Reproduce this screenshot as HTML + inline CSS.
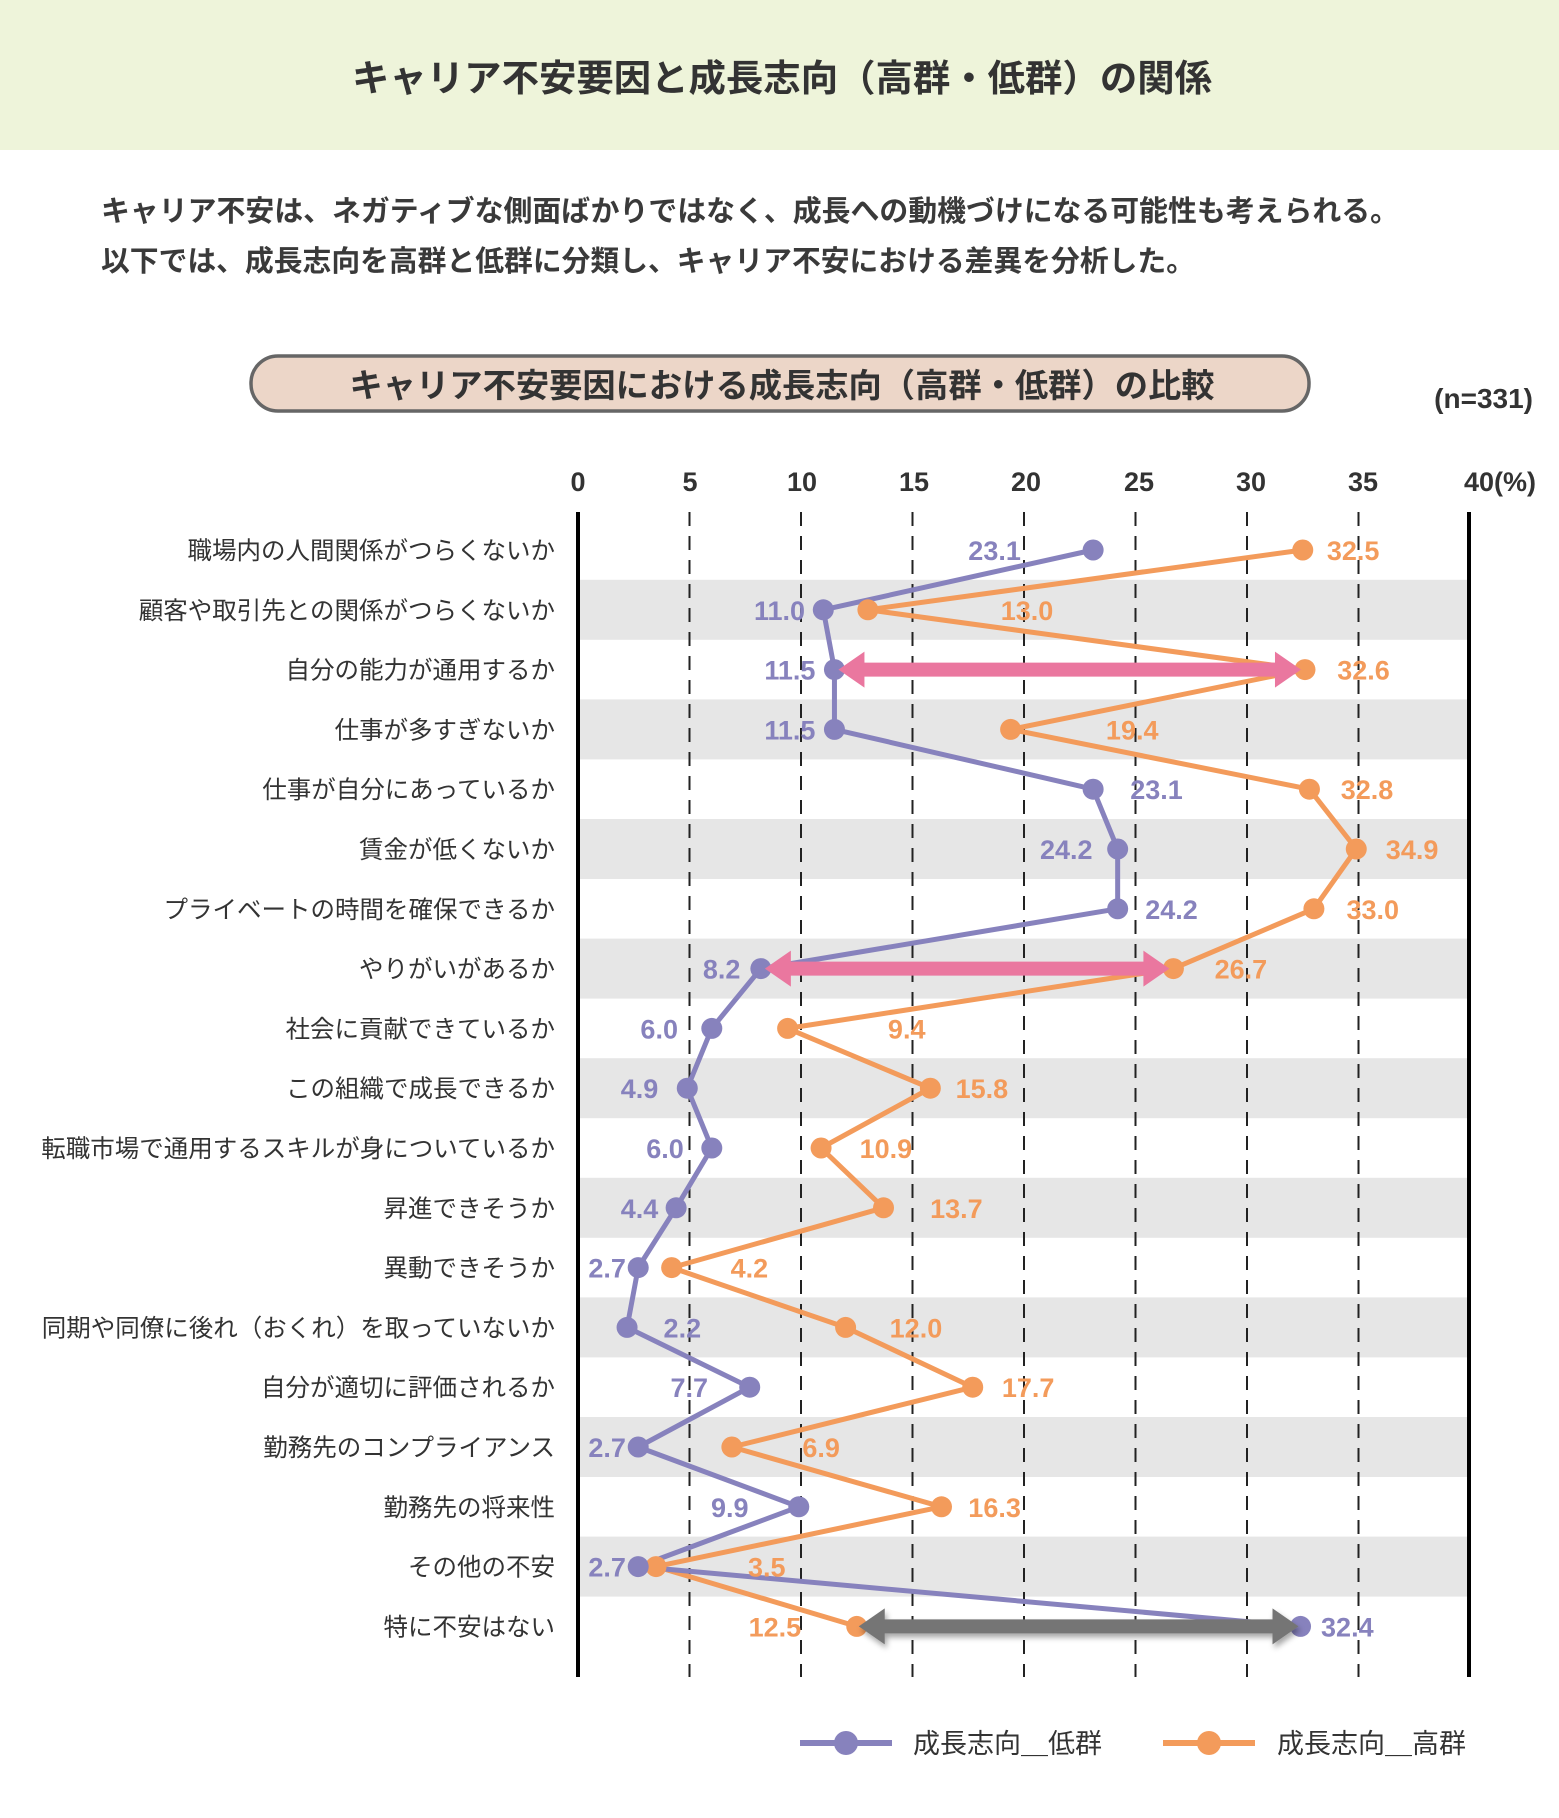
<!DOCTYPE html>
<html><head><meta charset="utf-8"><style>
html,body{margin:0;padding:0;background:#fff}
svg text{font-family:"Liberation Sans","Noto Sans CJK JP",sans-serif}
</style></head><body>
<svg width="1559" height="1813" viewBox="0 0 1559 1813" xmlns="http://www.w3.org/2000/svg">
<defs>
<filter id="sh" x="-10%" y="-50%" width="120%" height="200%"><feDropShadow dx="2" dy="4" stdDeviation="3" flood-color="#000" flood-opacity="0.35"/></filter>
</defs>
<rect x="0" y="0" width="1559" height="150" fill="#eef4da"/>
<text x="782" y="91" text-anchor="middle" font-size="37" font-weight="bold" fill="#333" textLength="860" lengthAdjust="spacingAndGlyphs">キャリア不安要因と成長志向（高群・低群）の関係</text>
<text x="101" y="221" font-size="29" font-weight="bold" fill="#3a3a3a" textLength="1298" lengthAdjust="spacingAndGlyphs">キャリア不安は、ネガティブな側面ばかりではなく、成長への動機づけになる可能性も考えられる。</text>
<text x="101" y="271" font-size="29" font-weight="bold" fill="#3a3a3a" textLength="1094" lengthAdjust="spacingAndGlyphs">以下では、成長志向を高群と低群に分類し、キャリア不安における差異を分析した。</text>
<rect x="251" y="356" width="1058" height="55" rx="27" fill="#ecd6c8" stroke="#666" stroke-width="3.5"/>
<text x="782" y="397" text-anchor="middle" font-size="33" font-weight="bold" fill="#333" textLength="865" lengthAdjust="spacingAndGlyphs">キャリア不安要因における成長志向（高群・低群）の比較</text>
<text x="1533" y="408" text-anchor="end" font-size="28" font-weight="bold" fill="#333">(n=331)</text>
<g id="chart"></g>
<g font-size="27" font-weight="bold" fill="#333" text-anchor="middle">
<text x="578" y="491">0</text><text x="690" y="491">5</text><text x="802" y="491">10</text><text x="914" y="491">15</text><text x="1026" y="491">20</text><text x="1139" y="491">25</text><text x="1251" y="491">30</text><text x="1363" y="491">35</text><text x="1500" y="491">40(%)</text>
</g>
<g transform="translate(800,1743)">
<line x1="0" y1="0" x2="92" y2="0" stroke="#8782bd" stroke-width="6"/><circle cx="46" cy="0" r="12" fill="#8782bd"/>
<text x="113" y="10" font-size="27" fill="#333">成長志向＿低群</text>
<line x1="363" y1="0" x2="455" y2="0" stroke="#f39b5b" stroke-width="6"/><circle cx="409" cy="0" r="12" fill="#f39b5b"/>
<text x="477" y="10" font-size="27" fill="#333">成長志向＿高群</text>
</g>
</svg>
<script>
(function(){
var NS="http://www.w3.org/2000/svg",g=document.getElementById("chart");
function el(t,a,txt){var e=document.createElementNS(NS,t);for(var k in a)e.setAttribute(k,a[k]);if(txt!=null)e.textContent=txt;g.appendChild(e);return e;}
var cats=["職場内の人間関係がつらくないか","顧客や取引先との関係がつらくないか","自分の能力が通用するか","仕事が多すぎないか","仕事が自分にあっているか","賃金が低くないか","プライベートの時間を確保できるか","やりがいがあるか","社会に貢献できているか","この組織で成長できるか","転職市場で通用するスキルが身についているか","昇進できそうか","異動できそうか","同期や同僚に後れ（おくれ）を取っていないか","自分が適切に評価されるか","勤務先のコンプライアンス","勤務先の将来性","その他の不安","特に不安はない"];
var lo=[23.1,11.0,11.5,11.5,23.1,24.2,24.2,8.2,6.0,4.9,6.0,4.4,2.7,2.2,7.7,2.7,9.9,2.7,32.4];
var hi=[32.5,13.0,32.6,19.4,32.8,34.9,33.0,26.7,9.4,15.8,10.9,13.7,4.2,12.0,17.7,6.9,16.3,3.5,12.5];
var loL=[860,674,683,683,1000,922,1013,624,570,553,575,553,525,590,596,525,631,525,1165];
var hiL=[1170,888,1179,979,1182,1221,1187,1073,784,849,766,827,648,792,889,710,860,663,670];
function X(v){return 578+v*22.3;}
function Y(i){return 550+59.8*i;}
for(var i=0;i<19;i++){if(i%2==1)el("rect",{x:578,y:Y(i)-30,width:891,height:60,fill:"#e6e6e6"});}
for(var k=1;k<8;k++){el("line",{x1:X(k*5),y1:512,x2:X(k*5),y2:1677,stroke:"#222","stroke-width":2,"stroke-dasharray":"14,10"});}
el("line",{x1:578,y1:512,x2:578,y2:1677,stroke:"#000","stroke-width":4});
el("line",{x1:1469,y1:512,x2:1469,y2:1677,stroke:"#000","stroke-width":4});
for(var i=0;i<19;i++){el("text",{x:555,y:Y(i)+9,"text-anchor":"end","font-size":24.5,fill:"#333"},cats[i]);}
var pl="",ph="";for(var i=0;i<19;i++){pl+=X(lo[i])+","+Y(i)+" ";ph+=X(hi[i])+","+Y(i)+" ";}
el("polyline",{points:ph,fill:"none",stroke:"#f39b5b","stroke-width":5,"stroke-linejoin":"round"});
el("polyline",{points:pl,fill:"none",stroke:"#8782bd","stroke-width":5,"stroke-linejoin":"round"});
for(var i=0;i<19;i++){el("circle",{cx:X(hi[i]),cy:Y(i),r:10.5,fill:"#f39b5b"});el("circle",{cx:X(lo[i]),cy:Y(i),r:10.5,fill:"#8782bd"});}
function arrow(x1,x2,y,c,sh){var h=18,L=26,t=7;var d="M"+x1+","+y+" L"+(x1+L)+","+(y-h)+" L"+(x1+L)+","+(y-t)+" L"+(x2-L)+","+(y-t)+" L"+(x2-L)+","+(y-h)+" L"+x2+","+y+" L"+(x2-L)+","+(y+h)+" L"+(x2-L)+","+(y+t)+" L"+(x1+L)+","+(y+t)+" L"+(x1+L)+","+(y+h)+" Z";var a={d:d,fill:c};if(sh)a.filter="url(#sh)";el("path",a);}
arrow(X(11.5)+4,X(32.6)-4,Y(2),"#ea779f",false);
arrow(X(8.2)+4,X(26.7)-4,Y(7),"#ea779f",false);
arrow(X(12.5)+2,X(32.4)-2,Y(18),"#757575",true);
for(var i=0;i<19;i++){
el("text",{x:loL[i]*1.1565,y:Y(i)+10,"text-anchor":"middle","font-size":27,"font-weight":"bold",fill:"#8782bd"},lo[i].toFixed(1));
el("text",{x:hiL[i]*1.1565,y:Y(i)+10,"text-anchor":"middle","font-size":27,"font-weight":"bold",fill:"#f39b5b"},hi[i].toFixed(1));}
})();
</script>
</body></html>
